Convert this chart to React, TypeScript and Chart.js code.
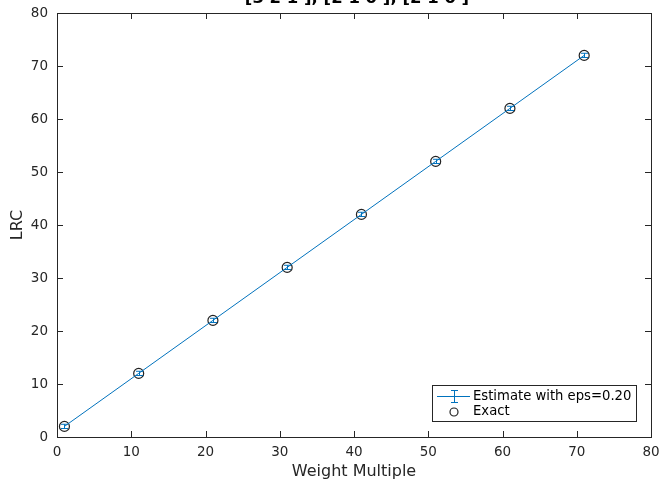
import React, { useEffect, useRef } from "react";
import { Chart, registerables } from "chart.js";
Chart.register(...registerables);

const weights = [1, 11, 21, 31, 41, 51, 61, 71];
const estimate = [2, 12, 22, 32, 42, 52, 62, 72];
const errors = [0.4, 0.4, 0.4, 0.4, 0.4, 0.4, 0.4, 0.4];
const exact = [2, 12, 22, 32, 42, 52, 62, 72];
const xTicks = [0, 10, 20, 30, 40, 50, 60, 70, 80];
const yTicks = [0, 10, 20, 30, 40, 50, 60, 70, 80];
const titleText = "[3 2 1 ], [2 1 0 ], [2 1 0 ]";
const xLabel = "Weight Multiple";
const yLabel = "LRC";
const legendLabels = ["Estimate with eps=0.20", "Exact"];

const FONT = "'DejaVu Sans', sans-serif";
const BLUE = "rgb(0,114,189)";
const DARK = "#262626";

const decor = {
  id: "decor",
  afterDatasetsDraw(chart: any) {
    const ctx = chart.ctx;
    const xs = chart.scales.x;
    const ys = chart.scales.y;
    const a = chart.chartArea;
    ctx.save();
    // error bars
    ctx.strokeStyle = BLUE;
    ctx.lineWidth = 1;
    weights.forEach((w, i) => {
      const px = Math.round(xs.getPixelForValue(w)) + 0.5;
      const top = ys.getPixelForValue(estimate[i] + errors[i]);
      const bot = ys.getPixelForValue(estimate[i] - errors[i]);
      ctx.beginPath();
      ctx.moveTo(px, top);
      ctx.lineTo(px, bot);
      ctx.moveTo(px - 3.5, top);
      ctx.lineTo(px + 3.5, top);
      ctx.moveTo(px - 3.5, bot);
      ctx.lineTo(px + 3.5, bot);
      ctx.stroke();
    });
    // box
    ctx.strokeStyle = DARK;
    ctx.lineWidth = 1;
    ctx.strokeRect(Math.round(a.left) + 0.5, Math.round(a.top) + 0.5, Math.round(a.right - a.left), Math.round(a.bottom - a.top));
    // inward ticks
    ctx.beginPath();
    xTicks.forEach((t) => {
      const px = Math.round(xs.getPixelForValue(t)) + 0.5;
      ctx.moveTo(px, a.bottom);
      ctx.lineTo(px, a.bottom - 6);
      ctx.moveTo(px, a.top);
      ctx.lineTo(px, a.top + 6);
    });
    yTicks.forEach((t) => {
      const py = Math.round(ys.getPixelForValue(t)) + 0.5;
      ctx.moveTo(a.left, py);
      ctx.lineTo(a.left + 6, py);
      ctx.moveTo(a.right, py);
      ctx.lineTo(a.right - 6, py);
    });
    ctx.stroke();
    // tick labels
    ctx.fillStyle = DARK;
    ctx.font = `13.5px ${FONT}`;
    ctx.textAlign = "center";
    ctx.textBaseline = "middle";
    xTicks.forEach((t) => {
      ctx.fillText(String(t), xs.getPixelForValue(t), a.bottom + 15);
    });
    ctx.textAlign = "right";
    yTicks.forEach((t) => {
      ctx.fillText(String(t), a.left - 9, ys.getPixelForValue(t));
    });
    // axis titles
    ctx.font = `16px ${FONT}`;
    ctx.textAlign = "center";
    ctx.fillText(xLabel, (a.left + a.right) / 2, 472);
    ctx.save();
    ctx.translate(18, (a.top + a.bottom) / 2);
    ctx.rotate(-Math.PI / 2);
    ctx.fillText(yLabel, 0, 0);
    ctx.restore();
    // title
    ctx.fillStyle = "#000";
    ctx.font = `bold 16.5px ${FONT}`;
    ctx.textAlign = "center";
    ctx.textBaseline = "middle";
    ctx.fillText(titleText, 357, -1);
    // legend
    const lx = 432, ly = 385, lw = 204, lh = 36;
    ctx.fillStyle = "#fff";
    ctx.fillRect(lx, ly, lw, lh);
    ctx.strokeStyle = DARK;
    ctx.lineWidth = 1;
    ctx.strokeRect(lx + 0.5, ly + 0.5, lw, lh);
    ctx.strokeStyle = BLUE;
    const cy1 = ly + 11.5;
    ctx.beginPath();
    ctx.moveTo(lx + 5, cy1);
    ctx.lineTo(lx + 38, cy1);
    ctx.moveTo(lx + 22.5, cy1 - 6);
    ctx.lineTo(lx + 22.5, cy1 + 6);
    ctx.moveTo(lx + 19, cy1 - 6);
    ctx.lineTo(lx + 26, cy1 - 6);
    ctx.moveTo(lx + 19, cy1 + 6);
    ctx.lineTo(lx + 26, cy1 + 6);
    ctx.stroke();
    ctx.strokeStyle = "#222";
    ctx.lineWidth = 1.2;
    const cy2 = ly + 27;
    ctx.beginPath();
    ctx.arc(lx + 22, cy2, 4, 0, Math.PI * 2);
    ctx.stroke();
    ctx.fillStyle = "#000";
    ctx.font = `13.2px ${FONT}`;
    ctx.textAlign = "left";
    ctx.textBaseline = "middle";
    ctx.fillText(legendLabels[0], lx + 41, cy1);
    ctx.fillText(legendLabels[1], lx + 41, cy2);
    ctx.restore();
  },
};

export default function App() {
  const ref = useRef<HTMLCanvasElement>(null);
  useEffect(() => {
    if (!ref.current) return;
    const chart = new Chart(ref.current, {
      type: "line",
      data: {
        datasets: [
          {
            label: legendLabels[0],
            data: weights.map((w, i) => ({ x: w, y: estimate[i] })),
            borderColor: BLUE,
            borderWidth: 1,
            pointRadius: 0,
            fill: false,
            tension: 0,
          },
          {
            label: legendLabels[1],
            data: weights.map((w, i) => ({ x: w, y: exact[i] })),
            showLine: false,
            pointRadius: 5,
            pointBorderWidth: 1.2,
            pointBorderColor: "#222",
            pointBackgroundColor: "rgba(0,0,0,0)",
          },
        ],
      },
      options: {
        animation: false,
        responsive: false,
        maintainAspectRatio: false,
        layout: { padding: { top: 13, right: 9, left: 0, bottom: 0 } },
        plugins: { legend: { display: false }, tooltip: { enabled: false }, title: { display: false } },
        scales: {
          x: {
            type: "linear",
            min: 0,
            max: 80,
            grid: { display: false, drawTicks: false },
            border: { display: false },
            ticks: { display: false },
            afterFit: (s: any) => { s.height = 48; s.paddingLeft = 0; s.paddingRight = 0; },
          },
          y: {
            type: "linear",
            min: 0,
            max: 80,
            grid: { display: false, drawTicks: false },
            border: { display: false },
            ticks: { display: false },
            afterFit: (s: any) => { s.width = 57; s.paddingTop = 0; s.paddingBottom = 0; },
          },
        },
      },
      plugins: [decor],
    });
    return () => chart.destroy();
  }, []);
  return (
    <div style={{ position: "fixed", left: 0, top: 0, width: 660, height: 485, background: "#fff" }}>
      <canvas ref={ref} width={660} height={485} style={{ display: "block" }} />
    </div>
  );
}
